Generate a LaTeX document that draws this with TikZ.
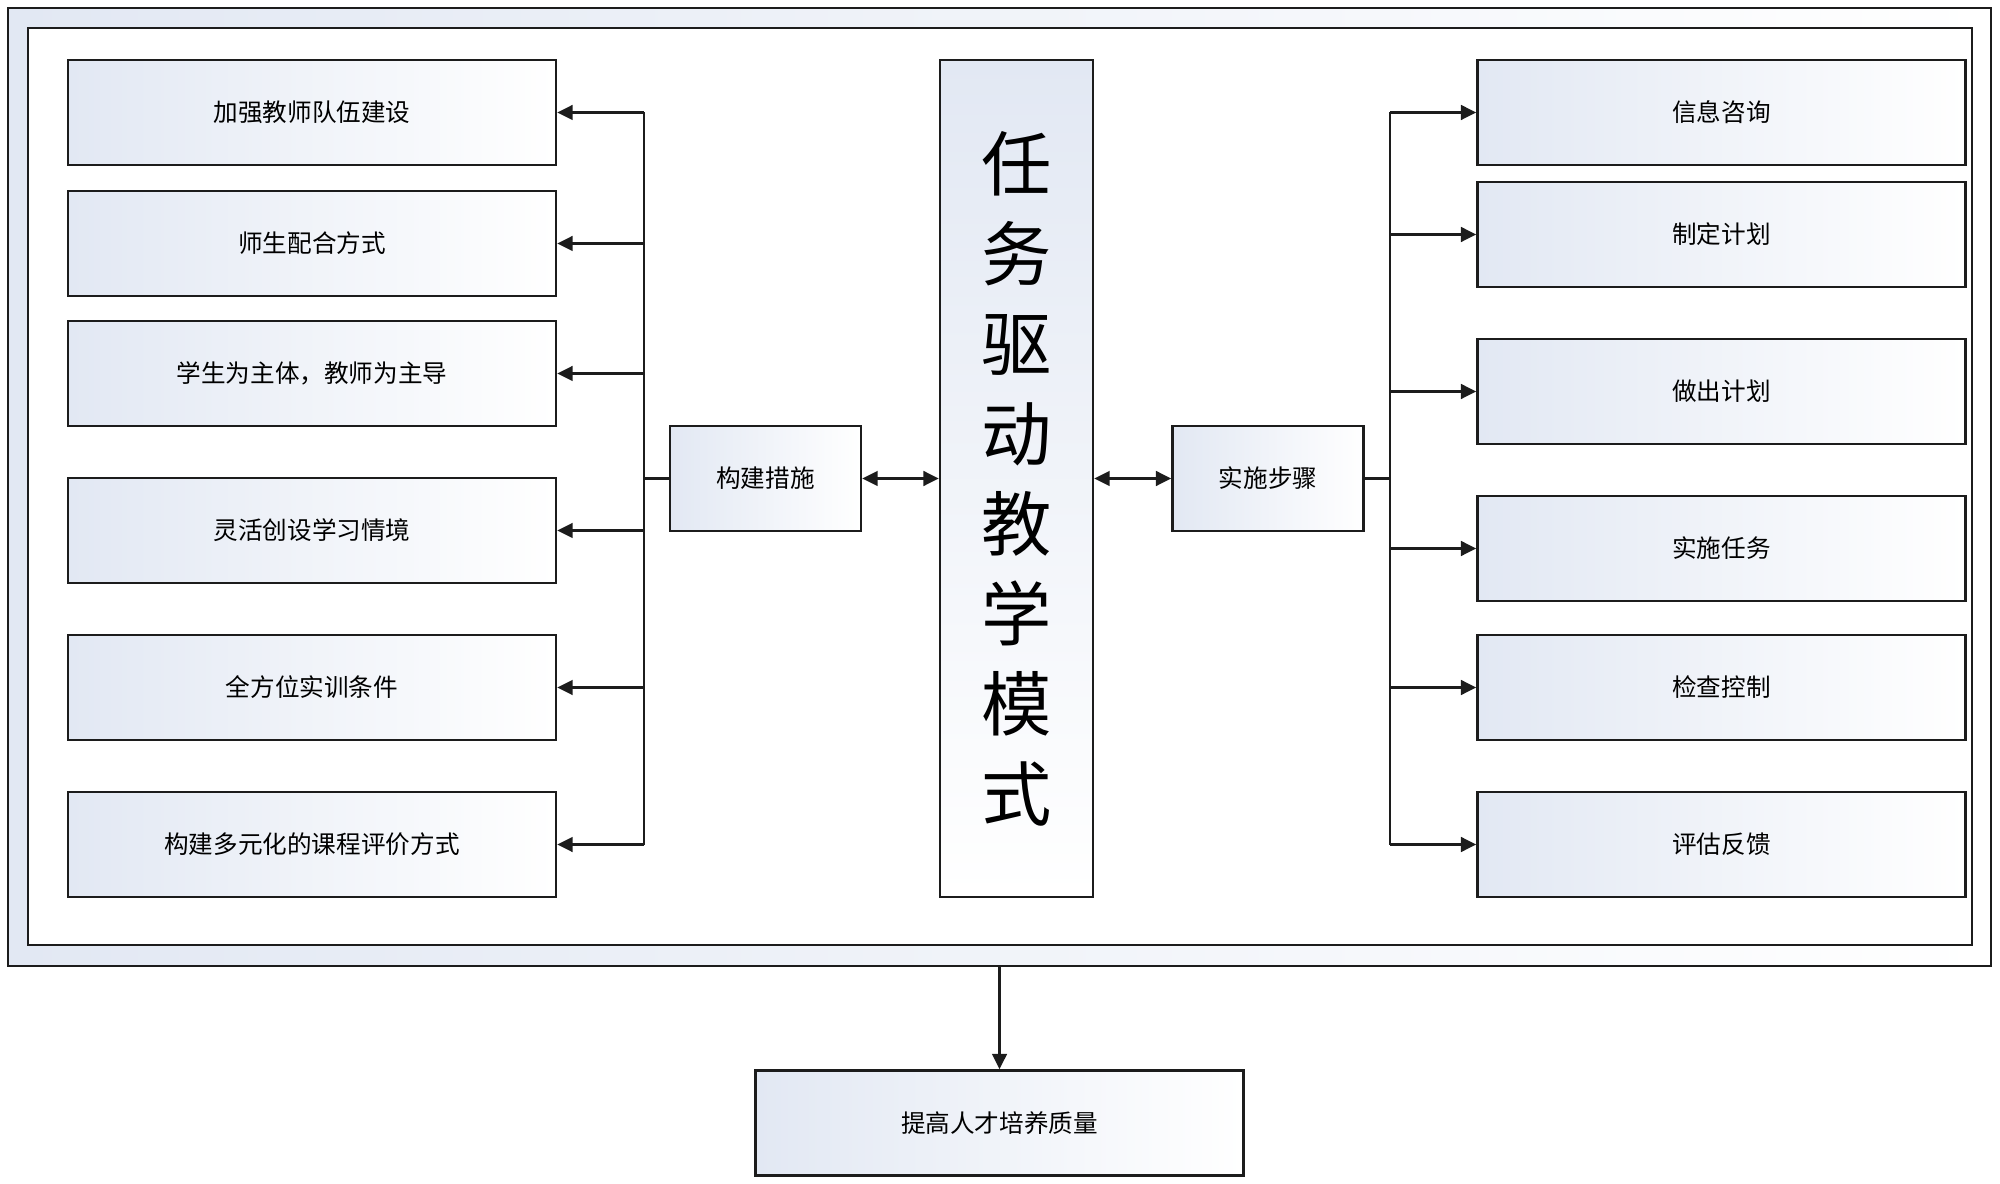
\documentclass[tikz,border=0pt]{standalone}
\usepackage{fontspec}
\setmainfont{Noto Sans CJK SC}
\usetikzlibrary{arrows.meta,positioning}
\definecolor{paleblue}{HTML}{E2E8F3}
\definecolor{edge}{HTML}{1C1C1C}
\tikzset{
  conn/.style={draw=edge,line width=0.7pt},
  arr/.style={conn,-{Triangle[length=4.4pt,width=4.2pt]}},
  darr/.style={conn,{Triangle[length=4.4pt,width=4.2pt]}-{Triangle[length=4.4pt,width=4.2pt]}},
  fade/.style={left color=paleblue,right color=white},
  blk/.style={conn,fade,
    minimum width=4.88cm,minimum height=1.05cm,inner sep=0pt,
    font=\fontsize{7pt}{8pt}\selectfont},
  smallblk/.style={blk,minimum width=1.91cm},
  frame/.style={conn,inner sep=0pt},
}

\begin{document}
\begin{tikzpicture}
\useasboundingbox (0,0) rectangle (20,-11.84);
% frames
\node[frame,fade,minimum width=19.83cm,minimum height=9.58cm] (outer) at (9.995,-4.87) {};
\node[frame,fill=white,minimum width=19.44cm,minimum height=9.17cm] (inner) at (10.0,-4.865) {};

% centre
\node[blk,top color=paleblue,bottom color=white,minimum width=1.53cm,minimum height=8.37cm,align=center,font=\fontsize{20pt}{25.6pt}\selectfont] (mode) at (10.165,-4.785) {任\\务\\驱\\动\\教\\学\\模\\式};
\node[smallblk] (build) at (7.655,-4.785) {构建措施};
\node[smallblk] (steps) at (12.68,-4.785) {实施步骤};

% left column
\node[blk] (l1) at (3.12,-1.125) {加强教师队伍建设};
\node[blk] (l2) at (3.12,-2.435) {师生配合方式};
\node[blk] (l3) at (3.12,-3.735) {学生为主体，教师为主导};
\node[blk] (l4) at (3.12,-5.305) {灵活创设学习情境};
\node[blk] (l5) at (3.12,-6.875) {全方位实训条件};
\node[blk] (l6) at (3.12,-8.445) {构建多元化的课程评价方式};

% right column
\node[blk] (r1) at (17.215,-1.125) {信息咨询};
\node[blk] (r2) at (17.215,-2.345) {制定计划};
\node[blk] (r3) at (17.215,-3.915) {做出计划};
\node[blk] (r4) at (17.215,-5.485) {实施任务};
\node[blk] (r5) at (17.215,-6.875) {检查控制};
\node[blk] (r6) at (17.215,-8.445) {评估反馈};

% result
\node[blk] (result) at (9.995,-11.23) {提高人才培养质量};

% connectors
\coordinate (lbus) at (6.44,0);
\coordinate (rbus) at (13.90,0);
\draw[darr] (build.east) -- (mode.west);
\draw[darr] (mode.east) -- (steps.west);
\draw[conn] (build.west) -- (build.west -| lbus);
\draw[conn] (lbus |- l1) -- (lbus |- l6);
\foreach \i in {1,...,6}
  \draw[arr] (lbus |- l\i) -- (l\i.east);
\draw[conn] (steps.east) -- (steps.east -| rbus);
\draw[conn] (rbus |- r1) -- (rbus |- r6);
\foreach \i in {1,...,6}
  \draw[arr] (rbus |- r\i) -- (r\i.west);
\draw[arr] (outer.south) -- (result.north);
\end{tikzpicture}
\end{document}
